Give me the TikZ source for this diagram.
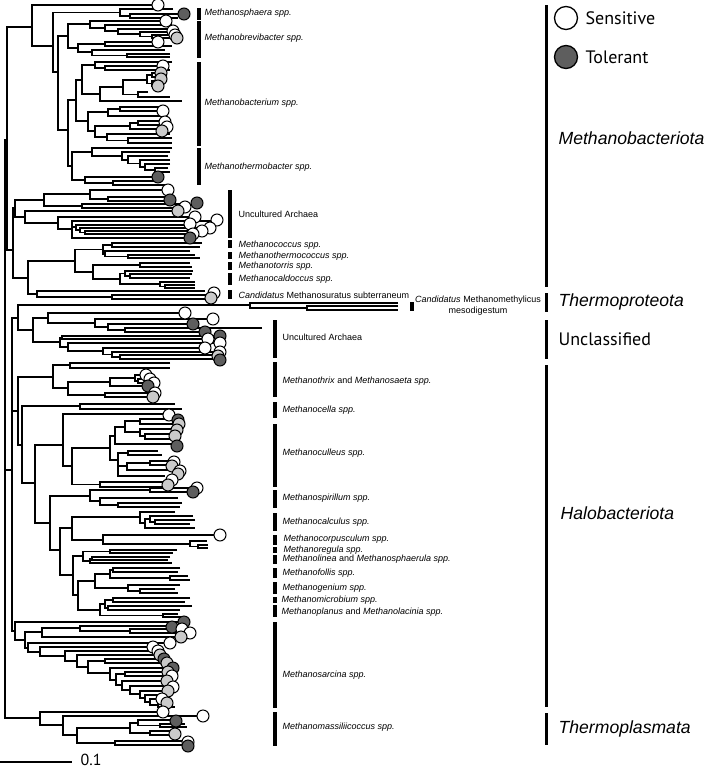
\documentclass[tikz,border=0pt]{standalone}
\usepackage{fontspec}
\setmainfont{Liberation Sans}
\newfontfamily\legendfont{PT Sans}
\usetikzlibrary{positioning}
\definecolor{ctol}{HTML}{5E5E5E}
\definecolor{cmix}{HTML}{CACACA}
\tikzset{
  every picture/.style={line width=1.3pt},
  branch/.style={draw=black, line width=1.3pt},
  sens/.style={draw=black, fill=white, line width=1pt},
  tol/.style={draw=black, fill=ctol, line width=1pt},
  mixd/.style={draw=black, fill=cmix, line width=1pt},
  cladebar/.style={fill=black},
  taxon/.style={font=\fontsize{9}{10}\selectfont\itshape, anchor=west, inner sep=0pt},
  plain/.style={font=\fontsize{9}{10}\selectfont, anchor=west, inner sep=0pt},
  phylum/.style={font=\fontsize{17.6}{20}\selectfont\itshape, anchor=west, inner sep=0pt},
  legend/.style={font=\legendfont\fontsize{18}{20}\selectfont, anchor=west, inner sep=0pt},
}
% one bifurcation: node x, child a (y,x), child b (y,x)
\newcommand{\clade}[5]{\draw[branch] (#3,#2) -| (#1,#4) -- (#5,#4);}
\newcommand{\tipS}[2]{\draw[sens] (#1,#2) circle (6pt);}
\newcommand{\tipT}[2]{\draw[tol] (#1,#2) circle (6pt);}
\newcommand{\tipM}[2]{\draw[mixd] (#1,#2) circle (6pt);}

\begin{document}
\begin{tikzpicture}[x=1pt, y=-1pt]
  \useasboundingbox (0,0) rectangle (708,772);

  % Methanosphaera / Methanobrevibacter
  \clade{130}{14}{180}{18}{178}
  \clade{120}{9}{173}{16}{130}
  \clade{152}{35}{174}{38}{176}
  \clade{140}{32}{172}{36.5}{152}
  \clade{118}{29}{175}{34}{140}
  \clade{105}{25}{172}{31}{118}
  \clade{90}{21}{163}{28}{105}
  \clade{105}{42}{158}{46}{172}
  \clade{127}{54}{170}{57}{170}
  \clade{92}{50}{165}{55.5}{127}
  \clade{78}{44}{105}{52}{92}
  \clade{68}{24}{90}{48}{78}
  % Methanobacterium
  \clade{105}{66}{160}{70}{170}
  \clade{95}{62}{172}{68}{105}
  \clade{152}{73}{158}{77}{160}
  \clade{152}{81}{158}{86}{156}
  \clade{147}{75}{152}{83.5}{152}
  \clade{138}{92}{148}{97}{170}
  \clade{123}{80}{147}{94.5}{138}
  \clade{100}{87}{123}{101}{182}
  \clade{82}{65}{95}{94}{100}
  \clade{120}{107}{160}{111}{160}
  \clade{108}{109}{120}{116}{162}
  \clade{138}{121}{162}{125}{165}
  \clade{130}{123}{138}{129}{160}
  \clade{128}{138}{172}{143}{172}
  \clade{107}{134}{170}{140.5}{128}
  \clade{95}{126}{130}{137}{107}
  \clade{88}{112}{108}{131}{95}
  \clade{76}{80}{82}{121}{88}
  % Methanothermobacter
  \clade{155}{168}{168}{172}{170}
  \clade{145}{164}{170}{170}{155}
  \clade{140}{160}{170}{167}{145}
  \clade{128}{156}{168}{163.5}{140}
  \clade{122}{152}{170}{160}{128}
  \clade{92}{148}{172}{156}{122}
  \clade{113}{181}{160}{185}{168}
  \clade{85}{177}{155}{183}{113}
  \clade{72}{152}{92}{180}{85}
  \clade{68}{100}{76}{166}{72}
  \clade{58}{36}{68}{130}{68}
  \clade{53}{12.5}{120}{72}{58}
  \clade{32}{5}{157}{46}{53}

  % uncultured archaea (upper)
  \clade{108}{197}{170}{201}{165}
  \clade{90}{190}{165}{199}{108}
  \clade{82}{204}{190}{208}{180}
  \clade{44}{194}{90}{206}{82}
  \clade{85}{231}{200}{234}{190}
  \clade{80}{228}{208}{232.5}{85}
  \clade{76}{225}{188}{230}{80}
  \clade{72}{221}{214}{227}{76}
  \clade{72}{227}{76}{238}{188}
  \clade{58}{217}{192}{229}{72}
  \clade{25}{211}{175}{223}{58}
  \clade{15}{200}{44}{217}{25}

  % Methanococcales + Methanosuratus
  \clade{112}{243}{202}{247}{200}
  \clade{128}{255}{195}{258}{200}
  \clade{105}{251}{190}{256.5}{128}
  \clade{103}{245}{112}{254}{105}
  \clade{140}{263}{190}{267}{192}
  \clade{165}{285}{195}{288}{195}
  \clade{160}{282}{195}{286.5}{165}
  \clade{130}{274}{192}{278}{190}
  \clade{125}{271}{193}{276}{130}
  \clade{120}{273.5}{125}{284}{160}
  \clade{93}{265}{140}{279}{120}
  \clade{75}{249.5}{103}{272}{93}
  \clade{112}{295}{210}{299}{207}
  \clade{37}{291}{205}{297}{112}
  \clade{28}{261}{75}{294}{37}
  \clade{13}{208}{15}{278}{28}
  \clade{7}{27}{32}{250}{13}

  % Thermoproteota
  \clade{307}{306}{398}{310}{398}
  \clade{250}{303}{398}{308}{307}
  % unclassified
  \clade{125}{328}{262}{332}{200}
  \clade{108}{324}{190}{330}{125}
  \clade{95}{319}{210}{327}{108}
  \clade{48}{313}{182}{323}{95}
  \clade{62}{336}{215}{339}{205}
  \clade{120}{355}{215}{359}{216}
  \clade{112}{352}{215}{357}{120}
  \clade{103}{348}{203}{354.5}{112}
  \clade{68}{343}{215}{351}{103}
  \clade{60}{337.5}{62}{347}{68}
  \clade{33}{318}{48}{342}{60}
  \clade{18}{305}{250}{330}{33}

  % Halobacteriota
  \clade{70}{363}{170}{368}{170}
  \clade{138}{379}{148}{383}{150}
  \clade{135}{375}{143}{381}{138}
  \clade{110}{378}{135}{386}{145}
  \clade{105}{393}{152}{397}{150}
  \clade{68}{382}{110}{395}{105}
  \clade{53}{365}{70}{388}{68}
  \clade{80}{404}{175}{409}{182}
  \clade{140}{419}{175}{424}{177}
  \clade{145}{434}{172}{439}{170}
  \clade{140}{429}{175}{436}{145}
  \clade{125}{421}{140}{432}{140}
  \clade{115}{427}{125}{444}{175}
  \clade{128}{451}{158}{455}{162}
  \clade{150}{461}{172}{465}{172}
  \clade{127}{463}{150}{470}{178}
  \clade{118}{453}{128}{466}{127}
  \clade{118}{466}{127}{476}{165}
  \clade{110}{436}{115}{460}{118}
  \clade{100}{482}{167}{487}{165}
  \clade{72}{448}{110}{484.5}{100}
  \clade{63}{414}{165}{466}{72}
  \clade{150}{488}{193}{492}{190}
  \clade{118}{503}{182}{507}{180}
  \clade{100}{498}{178}{505}{118}
  \clade{90}{490}{150}{501}{100}
  \clade{155}{520}{195}{524}{190}
  \clade{150}{516}{193}{522}{155}
  \clade{145}{519}{150}{528}{195}
  \clade{140}{512}{175}{523}{145}
  \clade{198}{545}{208}{548}{208}
  \clade{190}{541}{207}{546.5}{198}
  \clade{103}{535}{217}{544}{190}
  \clade{72}{517}{140}{540}{103}
  \clade{110}{550}{177}{553}{173}
  \clade{92}{557}{170}{560}{168}
  \clade{90}{558.5}{92}{563}{172}
  \clade{83}{551.5}{110}{561}{90}
  \clade{170}{576}{188}{580}{190}
  \clade{113}{568}{180}{572}{178}
  \clade{110}{570}{113}{578}{170}
  \clade{140}{589}{175}{593}{178}
  \clade{128}{585}{180}{591}{140}
  \clade{95}{574}{110}{588}{128}
  \clade{113}{598}{190}{602}{185}
  \clade{163}{614}{178}{617}{182}
  \clade{108}{606}{192}{610}{180}
  \clade{105}{600}{113}{608}{108}
  \clade{100}{604}{105}{615.5}{163}
  \clade{78}{581}{95}{610}{100}
  \clade{73}{556}{83}{595}{78}
  \clade{60}{528}{72}{575}{73}
  \clade{50}{496}{90}{550}{60}
  \clade{35}{445}{63}{523}{50}
  \clade{22}{406}{80}{483}{35}
  \clade{18}{377}{53}{445}{22}
  % Methanosarcina
  \clade{130}{629}{178}{633}{186}
  \clade{80}{626}{168}{631}{130}
  \clade{42}{628}{80}{637}{178}
  \clade{158}{703}{164}{707}{175}
  \clade{150}{699}{159}{705}{158}
  \clade{145}{695}{172}{702}{150}
  \clade{140}{691}{165}{698}{145}
  \clade{130}{686}{170}{694}{140}
  \clade{122}{681}{164}{690}{130}
  \clade{125}{672}{165}{676}{169}
  \clade{116}{674}{125}{685}{122}
  \clade{110}{668}{170}{680}{116}
  \clade{105}{659}{161}{663}{164}
  \clade{88}{661}{105}{673}{110}
  \clade{77}{655}{157}{667}{88}
  \clade{65}{651}{155}{661}{77}
  \clade{40}{647}{150}{656}{65}
  \clade{28}{643}{167}{652}{40}
  \clade{25}{632}{42}{648}{28}
  \clade{15}{622}{178}{640}{25}
  \clade{12}{318}{18}{631}{15}
  \draw[branch] (12,411) -- (18,411);
  % Thermoplasmata
  \clade{160}{724}{185}{727}{187}
  \clade{138}{720}{172}{725.5}{160}
  \clade{150}{731}{175}{735}{172}
  \clade{130}{723}{138}{733}{150}
  \clade{115}{741}{185}{745}{185}
  \clade{77}{728}{130}{743}{115}
  \clade{63}{716}{200}{735}{77}
  \clade{40}{712}{160}{725}{63}
  % root
  \clade{5}{140}{7}{718}{40}
  \draw[branch] (5,470) -- (12,470);

  % tips
  \tipS{158}{5} \tipT{184}{14} \tipS{166}{21}
  \tipS{173}{31} \tipS{175}{35} \tipM{177}{38} \tipS{158}{42}
  \tipS{163}{66} \tipM{161}{73} \tipM{161}{79} \tipM{158}{86}
  \tipS{163}{111} \tipS{165}{122} \tipS{167}{127} \tipM{162}{131}
  \tipT{158}{177}
  \tipS{168}{190} \tipT{170}{200} \tipT{197}{203} \tipS{185}{207} \tipM{178}{211}
  \tipS{195}{217} \tipS{217}{220} \tipS{190}{224} \tipS{210}{228} \tipS{202}{231}
  \tipS{193}{234} \tipT{190}{238}
  \tipS{214}{293} \tipM{211}{298}
  \tipS{185}{313} \tipS{213}{319} \tipT{193}{324} \tipT{205}{332} \tipT{220}{336}
  \tipS{208}{339} \tipS{220}{343} \tipS{205}{348} \tipS{220}{352} \tipM{218}{356}
  \tipT{220}{360}
  \tipS{146}{375} \tipS{150}{379} \tipS{154}{383} \tipT{148}{386} \tipS{155}{393}
  \tipM{153}{397}
  \tipS{169}{415} \tipT{178}{420} \tipM{179}{424} \tipM{177}{430} \tipM{175}{436}
  \tipT{177}{446} \tipS{174}{462} \tipM{172}{466} \tipS{180}{471} \tipM{178}{474}
  \tipS{172}{480} \tipM{168}{485}
  \tipS{197}{488} \tipT{193}{492}
  \tipS{220}{535}
  \tipT{184}{622} \tipT{172}{627} \tipS{182}{629} \tipS{190}{633} \tipM{181}{637}
  \tipS{170}{643} \tipS{153}{647} \tipS{158}{651} \tipM{160}{655} \tipT{164}{659}
  \tipM{167}{663} \tipT{173}{668} \tipM{168}{672} \tipS{172}{676} \tipM{167}{681}
  \tipS{173}{687} \tipM{168}{691} \tipS{162}{699} \tipM{167}{703}
  \tipS{163}{712} \tipS{203}{716} \tipT{176}{721} \tipM{175}{734} \tipS{188}{742}
  \tipT{188}{746}

  % genus bars and labels
  \fill[cladebar] (197,8) rectangle (201,20);
  \fill[cladebar] (197,21) rectangle (201,58);
  \fill[cladebar] (197,62) rectangle (201,146);
  \fill[cladebar] (197,148) rectangle (201,185);
  \node[taxon] (sphaera) at (204,13) {Methanosphaera spp.};
  \node[taxon] (brevi) at (204,38) {Methanobrevibacter spp.};
  \node[taxon] (bacterium) at (204,103) {Methanobacterium spp.};
  \node[taxon] (thermobac) at (204,167) {Methanothermobacter spp.};

  \fill[cladebar] (228,190) rectangle (232,238);
  \fill[cladebar] (228,240) rectangle (232,248);
  \fill[cladebar] (228,252) rectangle (232,259);
  \fill[cladebar] (228,262) rectangle (232,270);
  \fill[cladebar] (228,273) rectangle (232,285);
  \fill[cladebar] (228,290) rectangle (232,299);
  \node[plain] (unculta) at (238,214) {Uncultured Archaea};
  \node[taxon] (coccus) at (238,245) {Methanococcus spp.};
  \node[taxon] (thermococ) at (238,256) {Methanothermococcus spp.};
  \node[taxon] (torris) at (238,266) {Methanotorris spp.};
  \node[taxon] (caldo) at (238,279) {Methanocaldoccus spp.};
  \node[plain] (suratus) at (238,295) {\textit{Candidatus} Methanosuratus subterraneum};
  \fill[cladebar] (410,302) rectangle (414,311);
  \node[plain, anchor=center, align=center, font=\fontsize{9}{11}\selectfont] (methylicus) at (478,306)
    {\textit{Candidatus} Methanomethylicus\\mesodigestum};

  \fill[cladebar] (273,320) rectangle (277,358);
  \fill[cladebar] (273,362) rectangle (277,397);
  \fill[cladebar] (273,402) rectangle (277,418);
  \fill[cladebar] (273,424) rectangle (277,487);
  \fill[cladebar] (273,490) rectangle (277,508);
  \fill[cladebar] (273,513) rectangle (277,531);
  \fill[cladebar] (273,535) rectangle (277,545);
  \fill[cladebar] (273,547) rectangle (277,553);
  \fill[cladebar] (273,555) rectangle (277,564);
  \fill[cladebar] (273,568) rectangle (277,578);
  \fill[cladebar] (273,582) rectangle (277,594);
  \fill[cladebar] (273,597) rectangle (277,603);
  \fill[cladebar] (273,605) rectangle (277,617);
  \fill[cladebar] (273,622) rectangle (277,708);
  \fill[cladebar] (273,712) rectangle (277,746);
  \node[plain] (ucultb) at (282,337) {Uncultured Archaea};
  \node[taxon] (thrix) at (282,381) {Methanothrix \textup{and} Methanosaeta spp.};
  \node[taxon] (cella) at (282,410) {Methanocella spp.};
  \node[taxon] (culleus) at (282,453) {Methanoculleus spp.};
  \node[taxon] (spirill) at (282,498) {Methanospirillum spp.};
  \node[taxon] (calcul) at (282,522) {Methanocalculus spp.};
  \node[taxon] (corpus) at (283,539) {Methanocorpusculum spp.};
  \node[taxon] (regula) at (283,550) {Methanoregula spp.};
  \node[taxon] (linea) at (282,559) {Methanolinea \textup{and} Methanosphaerula spp.};
  \node[taxon] (follis) at (282,573) {Methanofollis spp.};
  \node[taxon] (genium) at (282,588) {Methanogenium spp.};
  \node[taxon] (microb) at (281,600) {Methanomicrobium spp.};
  \node[taxon] (planus) at (281,612) {Methanoplanus \textup{and} Methanolacinia spp.};
  \node[taxon] (sarcina) at (282,675) {Methanosarcina spp.};
  \node[taxon] (massil) at (282,727) {Methanomassiliicoccus spp.};

  % phylum bars
  \fill[cladebar] (545,5) rectangle (548,287);
  \fill[cladebar] (545,293) rectangle (548,312);
  \fill[cladebar] (545,320) rectangle (548,359);
  \fill[cladebar] (545,365) rectangle (548,707);
  \fill[cladebar] (545,713) rectangle (548,745);
  \node[phylum] (pbact) at (558,138) {Methanobacteriota};
  \node[phylum] (pthermo) at (558,302) {Thermoproteota};
  \node[legend] (puncl) at (558,339) {Unclassified};
  \node[phylum] (phalo) at (560,513) {Halobacteriota};
  \node[phylum] (pplasma) at (558,729) {Thermoplasmata};

  % legend
  \draw[sens, line width=1.3pt] (566,18) circle (11.5pt);
  \draw[tol, line width=1.3pt] (566,57) circle (11.5pt);
  \node[legend] (lsens) at (585,18) {Sensitive};
  \node[legend] (ltol) at (585,57) {Tolerant};

  % scale bar
  \draw[branch] (0,762) -- (72,762);
  \node[legend, font=\legendfont\fontsize{16}{18}\selectfont] (scale) at (80,760) {0.1};
\end{tikzpicture}
\end{document}
